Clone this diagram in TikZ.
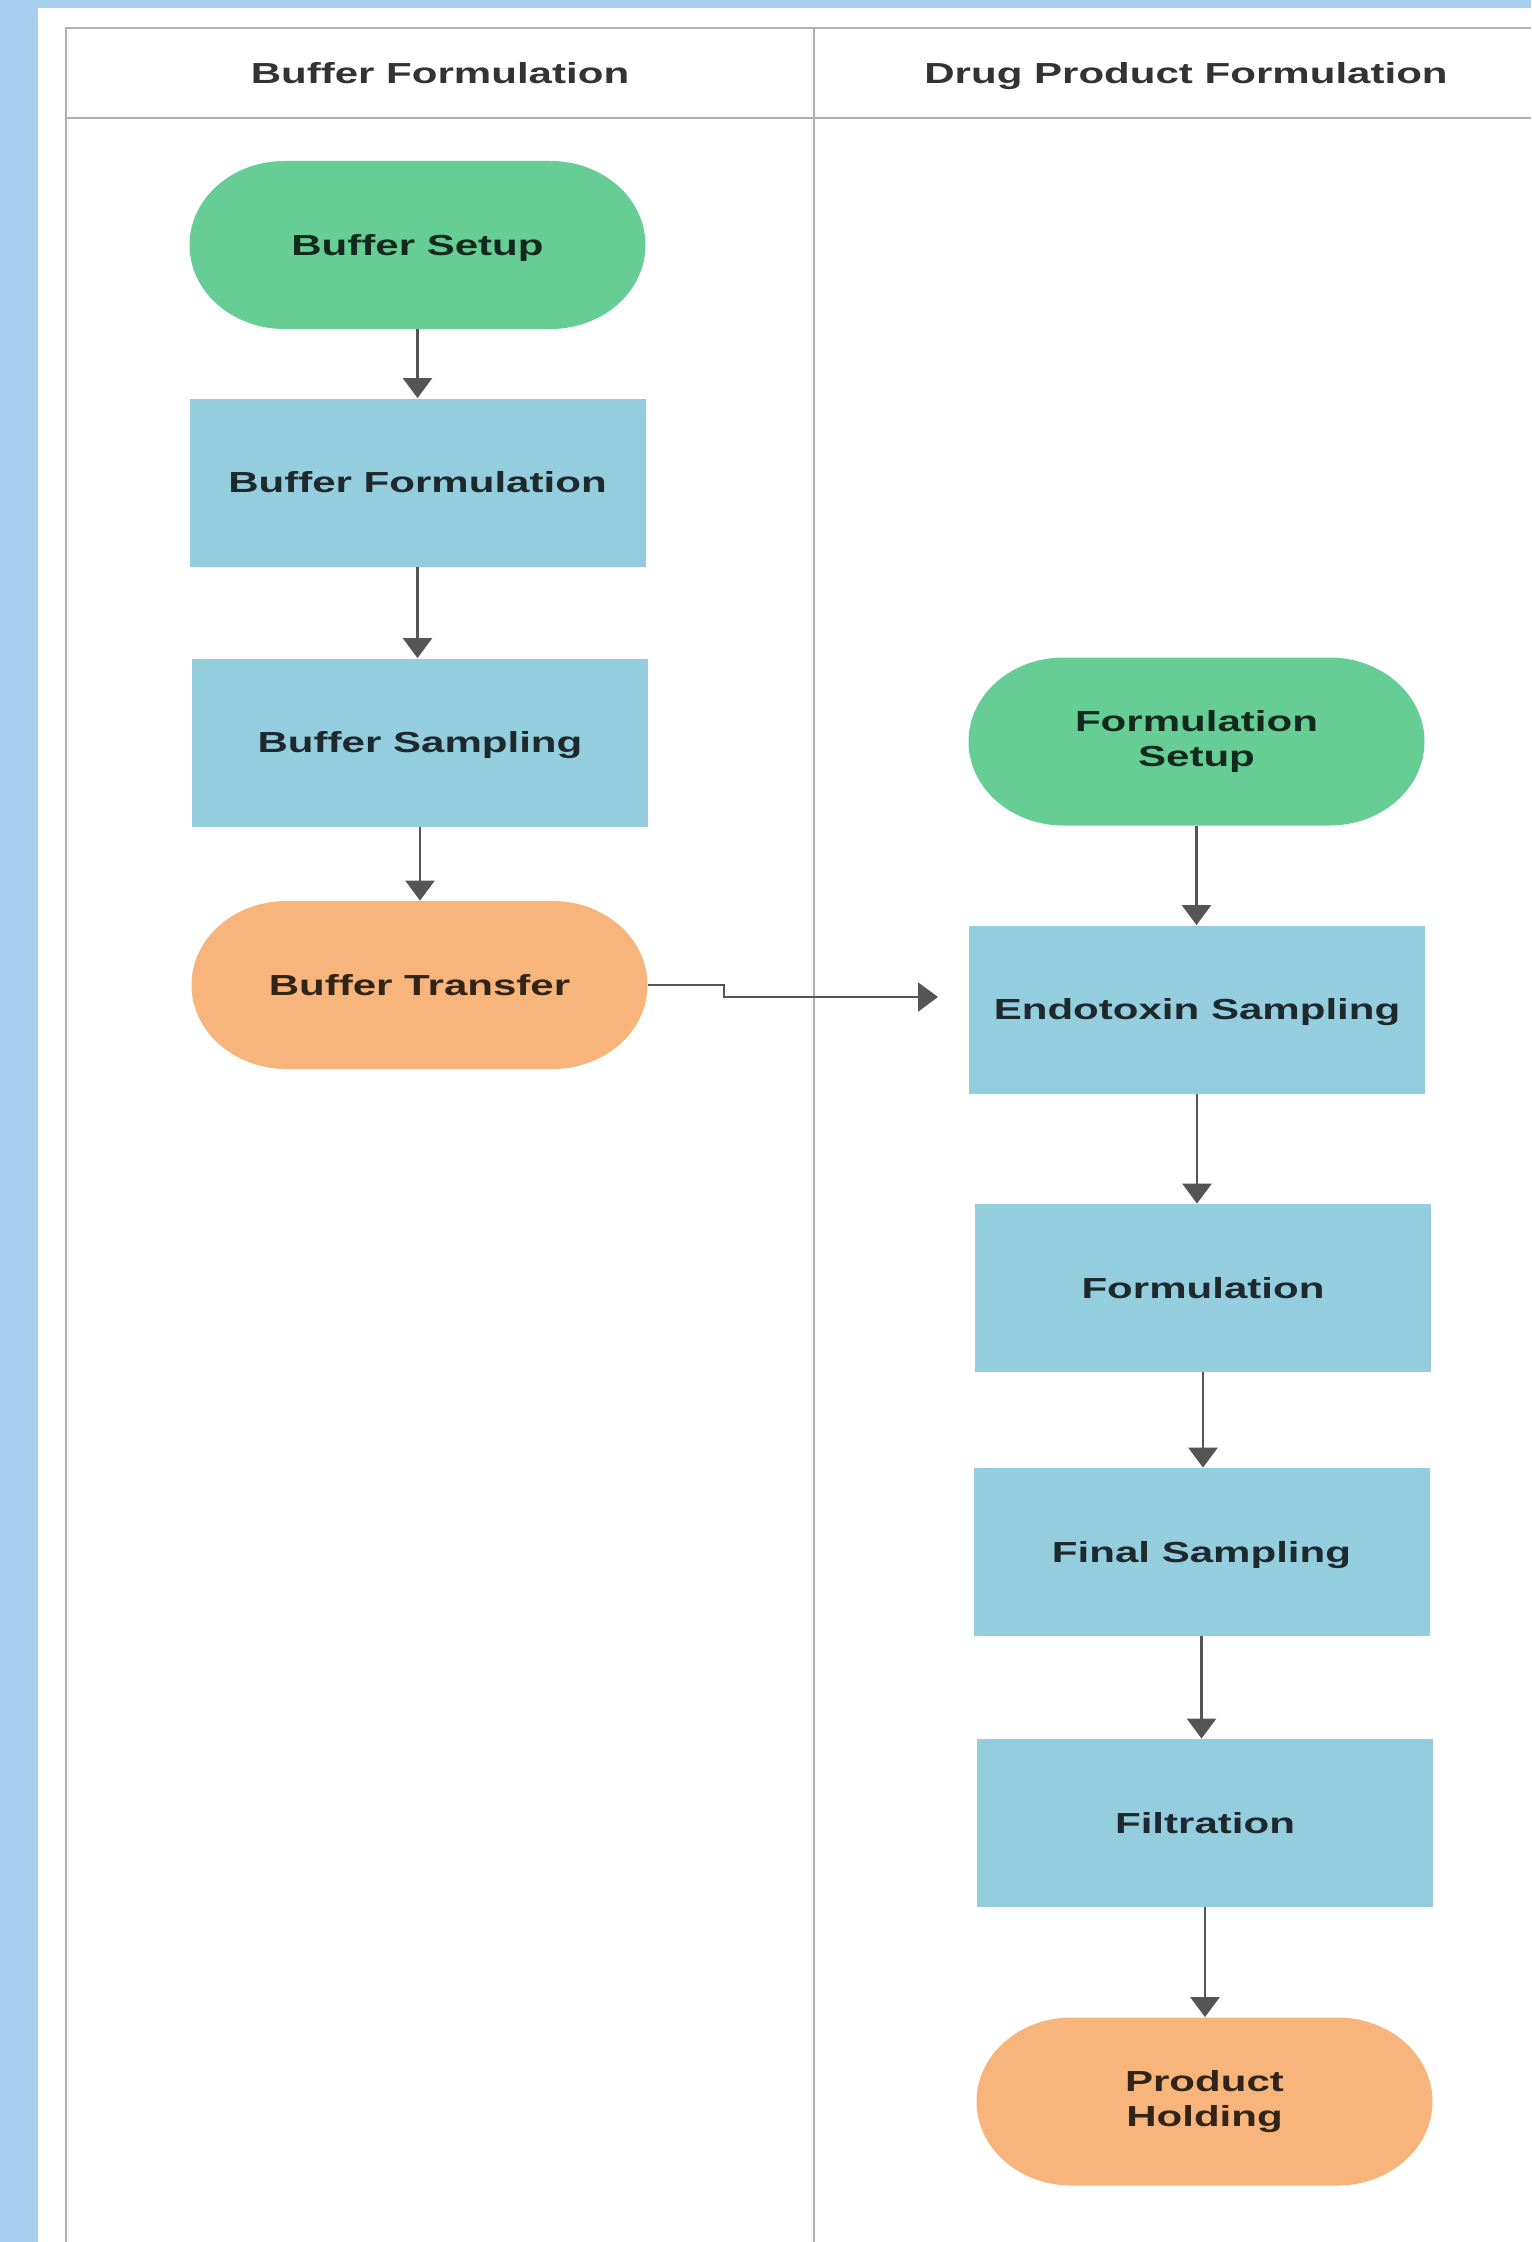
\documentclass[tikz,border=0pt]{standalone}
\usepackage{fontspec}
\newfontfamily\nodefont[FakeStretch=1.45]{Liberation Sans}
\usetikzlibrary{arrows.meta}

\definecolor{bgblue}{HTML}{A6D0EE}
\definecolor{lanegrey}{HTML}{B0B0B0}
\definecolor{startgreen}{HTML}{66CD95}
\definecolor{procblue}{HTML}{94CDDD}
\definecolor{endorange}{HTML}{F7B47B}
\definecolor{arrowgrey}{HTML}{555555}

\tikzset{
  lane/.style={draw=lanegrey, line width=1pt},
  txt/.style={font=\nodefont\bfseries\fontsize{14.5pt}{17.4pt}\selectfont, text=black, text opacity=0.8, inner sep=0pt},
  oneline/.style={text height=10.4pt, text depth=0pt},
  hdr/.style={txt, oneline},
  procbox/.style={txt, oneline, rectangle, fill=procblue, minimum width=228pt, minimum height=84pt},
  stadium/.style={txt, align=center, rectangle, minimum width=228pt, minimum height=84pt,
    path picture={
      \fill[#1] ([xshift=47.5pt]path picture bounding box.north west)
        -- ([xshift=-47.5pt]path picture bounding box.north east)
        arc[start angle=90, end angle=-90, x radius=47.5pt, y radius=42pt]
        -- ([xshift=47.5pt]path picture bounding box.south west)
        arc[start angle=270, end angle=90, x radius=47.5pt, y radius=42pt]
        -- cycle;}},
  conn/.style={draw=arrowgrey, line width=1.3pt, -{Triangle[width=14.5pt,length=10pt]}},
  xconn/.style={conn, line width=1.1pt}
}

\begin{document}
\begin{tikzpicture}[x=0.5pt, y=-0.5pt]
\useasboundingbox (0,0) rectangle (1531,2242);
\fill[bgblue] (0,0) rectangle (1531,2242);
\fill[white] (38,8) rectangle (1531,2242);

% swimlane frame
\draw[lane] (66,2242) -- (66,28.5) -- (1531,28.5);
\draw[lane] (66,118) -- (1531,118);
\draw[lane] (814,28.5) -- (814,2242);

% lane headers
\node[hdr] (h1) at (440,73) {Buffer Formulation};
\node[hdr] (h2) at (1186,73) {Drug Product Formulation};

% left lane
\node[stadium=startgreen, oneline] (bs) at (417.5,245) {Buffer Setup};
\node[procbox] (bf) at (417.5,482.5) {Buffer Formulation};
\node[procbox] (bsamp) at (420,742.5) {Buffer Sampling};
\node[stadium=endorange, oneline] (bt) at (419.5,985) {Buffer Transfer};

% right lane
\node[stadium=startgreen] (fs) at (1196.5,741.5) {Formulation\\Setup};
\node[procbox] (endo) at (1197,1009.5) {Endotoxin Sampling};
\node[procbox] (form) at (1203,1288) {Formulation};
\node[procbox] (final) at (1201.5,1552) {Final Sampling};
\node[procbox] (filt) at (1205,1823) {Filtration};
\node[stadium=endorange] (ph) at (1204.5,2101.5) {Product\\Holding};

% connectors
\draw[conn] (bs.south) -- (bs.south |- bf.north);
\draw[conn] (bf.south) -- (bf.south |- bsamp.north);
\draw[conn] (bsamp.south) -- (bsamp.south |- bt.north);
\draw[conn] (fs.south) -- (fs.south |- endo.north);
\draw[conn] (endo.south) -- (endo.south |- form.north);
\draw[conn] (form.south) -- (form.south |- final.north);
\draw[conn] (final.south) -- (final.south |- filt.north);
\draw[conn] (filt.south) -- (filt.south |- ph.north);

\coordinate (jog) at (724,997);
\coordinate (tipend) at (938,997);
\draw[xconn] (bt.east) -- (bt.east -| jog) -- (jog) -- (tipend);
\end{tikzpicture}
\end{document}
